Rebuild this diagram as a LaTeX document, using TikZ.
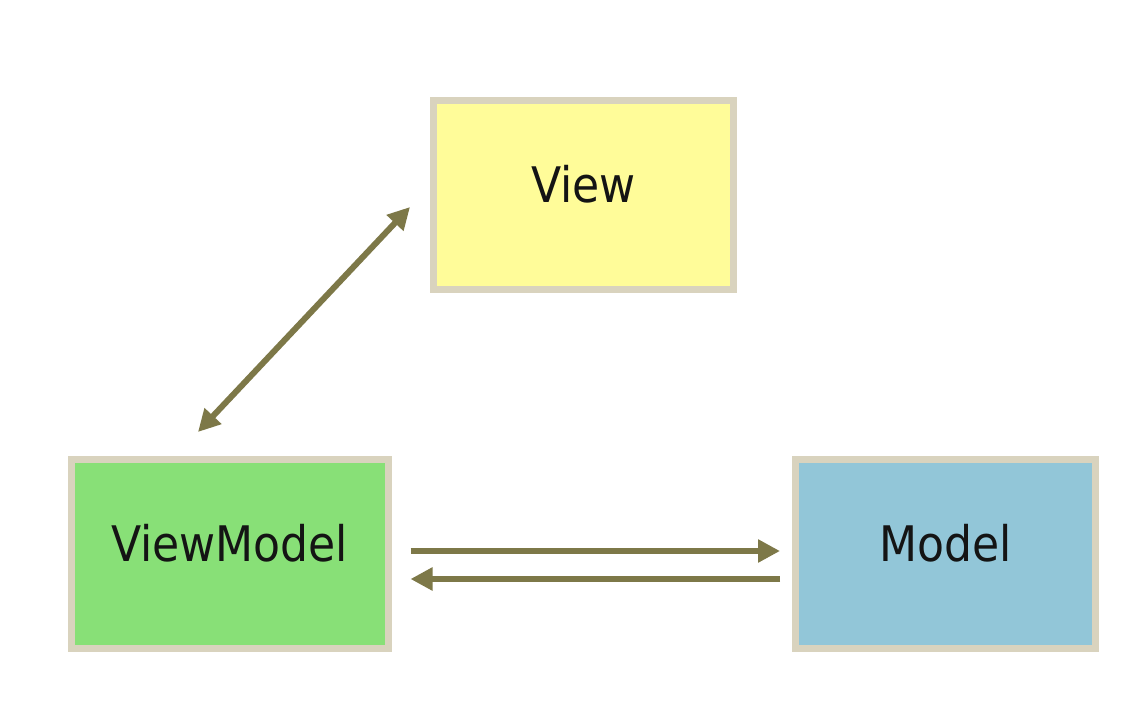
\documentclass[tikz,border=0pt]{standalone}
\usepackage{fontspec}
\setmainfont{DejaVu Sans Condensed}
\usetikzlibrary{arrows.meta}
\definecolor{bordercol}{HTML}{D9D3BE}
\definecolor{viewfill}{HTML}{FFFC99}
\definecolor{vmfill}{HTML}{88E077}
\definecolor{modelfill}{HTML}{92C6D8}
\definecolor{arrowcol}{HTML}{7D7848}
\definecolor{textcol}{HTML}{141414}
\tikzset{
  box/.style={draw=bordercol, line width=7pt, inner sep=0pt, minimum height=189pt,
    text=textcol, font=\fontsize{49}{51}\selectfont, text height=35pt, text depth=21pt},
  arr/.style={draw=arrowcol, line width=6pt,
    arrows={-Triangle[length=22pt,width=22pt]}},
  darr/.style={draw=arrowcol, line width=6pt,
    arrows={Triangle[length=22pt,width=22pt]-Triangle[length=22pt,width=22pt]}}
}
\begin{document}
\begin{tikzpicture}[x=1pt,y=-1pt]
\fill[white] (0,0) rectangle (1145,720);
\useasboundingbox (0,0) rectangle (1145,720);
\node[box, fill=viewfill, minimum width=300pt] (view) at (583.5,195) {View};
\node[box, fill=vmfill, minimum width=317pt] (vm) at (229.5,554) {ViewModel};
\node[box, fill=modelfill, minimum width=300pt] (model) at (945.5,554) {Model};
\draw[darr] ([xshift=-31.5pt,yshift=24pt]vm.north) -- ([xshift=-20pt,yshift=-12pt]view.west);
\draw[arr] ([xshift=19pt,yshift=3pt]vm.east) -- ([xshift=-12pt,yshift=3pt]model.west);
\draw[arr] ([xshift=-12pt,yshift=-25pt]model.west) -- ([xshift=19pt,yshift=-25pt]vm.east);
\end{tikzpicture}
\end{document}
